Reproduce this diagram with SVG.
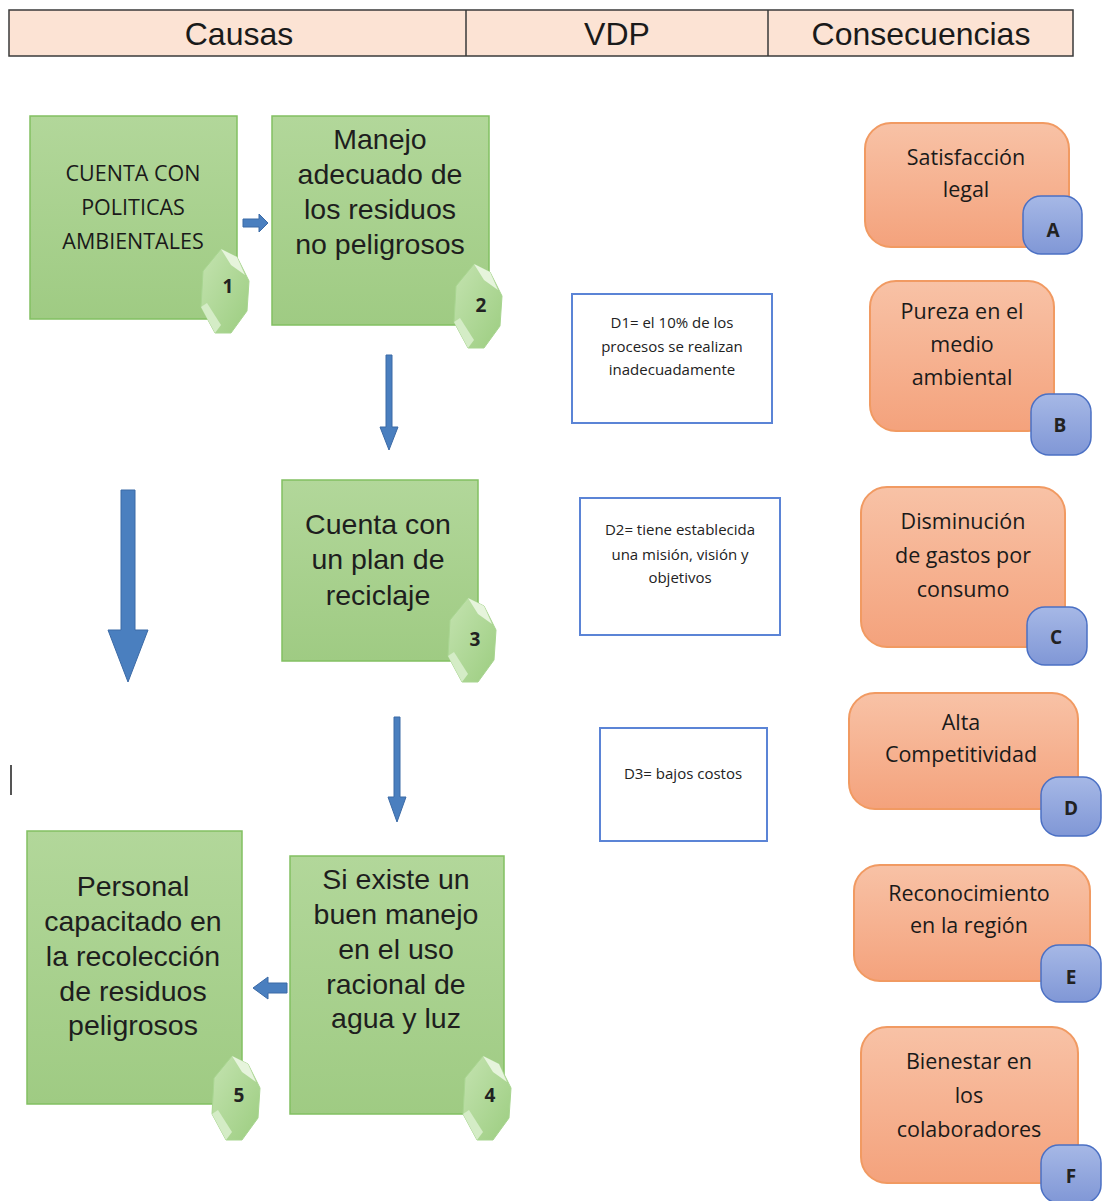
<svg xmlns="http://www.w3.org/2000/svg" width="1104" height="1201" viewBox="0 0 1104 1201">
<defs>
<linearGradient id="gG" x1="0" y1="0" x2="0" y2="1"><stop offset="0" stop-color="#b2d79a"/><stop offset="1" stop-color="#9fcb83"/></linearGradient>
<linearGradient id="oG" x1="0" y1="0" x2="0" y2="1"><stop offset="0" stop-color="#f8c2a6"/><stop offset="1" stop-color="#f4a27c"/></linearGradient>
<linearGradient id="bG" x1="0" y1="0" x2="0" y2="1"><stop offset="0" stop-color="#a6b8e6"/><stop offset="1" stop-color="#8097d6"/></linearGradient>
<linearGradient id="hG" x1="0" y1="0" x2="1" y2="1"><stop offset="0" stop-color="#c4e3b0"/><stop offset="1" stop-color="#9ccd80"/></linearGradient>
<g id="hex">
<polygon points="-4,-42 12,-34 24,-10 22,20 6,42 -10,42 -24,16 -22,-20" fill="url(#hG)" stroke="#a8d590" stroke-width="1"/>
<polygon points="-4,-42 12,-34 20,-16 6,-26" fill="#e6f4dc"/>
<polygon points="-24,16 -10,42 -4,34 -18,12" fill="#d4ecc6"/>
</g>
</defs>
<style>
.hdr{fill:#fce3d4;stroke:#3a3a3a;stroke-width:1.5}
.ht{font-family:"Liberation Sans",Arial,sans-serif;font-size:32px;fill:#1a1a1a;text-anchor:middle}
.gb{fill:url(#gG);stroke:#82c062;stroke-width:1.5}
.gt{font-family:"Liberation Sans",Arial,sans-serif;font-size:28.5px;fill:#1e1e1e;text-anchor:middle}
.ct{font-family:"Open Sans",Lato,sans-serif;font-size:21.5px;fill:#1a1a1a;text-anchor:middle}
.num{font-family:"Open Sans",Lato,sans-serif;font-size:19px;font-weight:bold;fill:#222;text-anchor:middle}
.db{fill:#fff;stroke:#5b84d6;stroke-width:2}
.dt{font-family:"Open Sans",Lato,sans-serif;font-size:15px;fill:#222;text-anchor:middle}
.ob{fill:url(#oG);stroke:#f19a62;stroke-width:2}
.ot{font-family:"Open Sans",Lato,sans-serif;font-size:21.5px;fill:#1a1a1a;text-anchor:middle}
.bb{fill:url(#bG);stroke:#4b70c4;stroke-width:1.5}
.bt{font-family:"Open Sans",Lato,sans-serif;font-size:19px;font-weight:bold;fill:#222;text-anchor:middle}
.ar{fill:#4a7fbf;stroke:#3b6aa6;stroke-width:1}
</style>

<g id="header">
<rect class="hdr" x="9" y="10" width="1064" height="46"/>
<line x1="466" y1="10" x2="466" y2="56" stroke="#3a3a3a" stroke-width="1.5"/>
<line x1="768" y1="10" x2="768" y2="56" stroke="#3a3a3a" stroke-width="1.5"/>
<text class="ht" x="239" y="45">Causas</text>
<text class="ht" x="617" y="45">VDP</text>
<text class="ht" x="921" y="45">Consecuencias</text>
</g>

<g id="connectors">
<polygon class="ar" points="243,219 259,219 259,214 268,223 259,232 259,227 243,227"/>
<polygon class="ar" points="386,355 392,355 392,427 398,427 389,450 380,427 386,427"/>
<polygon class="ar" points="121,490 135,490 135,630 148,630 128,682 108,630 121,630"/>
<polygon class="ar" points="394,717 400,717 400,797 406,797 397,822 388,797 394,797"/>
<polygon class="ar" points="287,983 268,983 268,977 253,988 268,999 268,993 287,993"/>
</g>

<line x1="11" y1="765" x2="11" y2="795" stroke="#555" stroke-width="2"/>

<g id="n1">
<rect class="gb" x="30" y="116" width="207" height="203"/>
<text class="ct" x="133" y="181">CUENTA CON</text>
<text class="ct" x="133" y="215">POLITICAS</text>
<text class="ct" x="133" y="249">AMBIENTALES</text>
<use href="#hex" x="225" y="291"/>
<text class="num" x="228" y="293">1</text>
</g>
<g id="n2">
<rect class="gb" x="272" y="116" width="217" height="209"/>
<text class="gt" x="380" y="149">Manejo</text>
<text class="gt" x="380" y="184">adecuado de</text>
<text class="gt" x="380" y="219">los residuos</text>
<text class="gt" x="380" y="254">no peligrosos</text>
<use href="#hex" x="478" y="306"/>
<text class="num" x="481" y="312">2</text>
</g>
<g id="n3">
<rect class="gb" x="282" y="480" width="196" height="181"/>
<text class="gt" x="378" y="534">Cuenta con</text>
<text class="gt" x="378" y="569">un plan de</text>
<text class="gt" x="378" y="605">reciclaje</text>
<use href="#hex" x="472" y="640"/>
<text class="num" x="475" y="646">3</text>
</g>
<g id="n4">
<rect class="gb" x="290" y="856" width="214" height="258"/>
<text class="gt" x="396" y="889">Si existe un</text>
<text class="gt" x="396" y="924">buen manejo</text>
<text class="gt" x="396" y="959">en el uso</text>
<text class="gt" x="396" y="994">racional de</text>
<text class="gt" x="396" y="1028">agua y luz</text>
<use href="#hex" x="487" y="1098"/>
<text class="num" x="490" y="1102">4</text>
</g>
<g id="n5">
<rect class="gb" x="27" y="831" width="215" height="273"/>
<text class="gt" x="133" y="896">Personal</text>
<text class="gt" x="133" y="931">capacitado en</text>
<text class="gt" x="133" y="966">la recolección</text>
<text class="gt" x="133" y="1001">de residuos</text>
<text class="gt" x="133" y="1035">peligrosos</text>
<use href="#hex" x="236" y="1098"/>
<text class="num" x="239" y="1102">5</text>
</g>

<g id="d1">
<rect class="db" x="572" y="294" width="200" height="129"/>
<text class="dt" x="672" y="328">D1= el 10% de los</text>
<text class="dt" x="672" y="352">procesos se realizan</text>
<text class="dt" x="672" y="375">inadecuadamente</text>
</g>
<g id="d2">
<rect class="db" x="580" y="498" width="200" height="137"/>
<text class="dt" x="680" y="535">D2= tiene establecida</text>
<text class="dt" x="680" y="560">una misión, visión y</text>
<text class="dt" x="680" y="583">objetivos</text>
</g>
<g id="d3">
<rect class="db" x="600" y="728" width="167" height="113"/>
<text class="dt" x="683" y="779">D3= bajos costos</text>
</g>

<g id="cA">
<rect class="ob" x="865" y="123" width="204" height="124" rx="26"/>
<text class="ot" x="966" y="165">Satisfacción</text>
<text class="ot" x="966" y="197">legal</text>
<rect class="bb" x="1023" y="196" width="59" height="58" rx="18"/>
<text class="bt" x="1053" y="237">A</text>
</g>
<g id="cB">
<rect class="ob" x="870" y="281" width="184" height="150" rx="26"/>
<text class="ot" x="962" y="319">Pureza en el</text>
<text class="ot" x="962" y="352">medio</text>
<text class="ot" x="962" y="385">ambiental</text>
<rect class="bb" x="1031" y="394" width="60" height="61" rx="18"/>
<text class="bt" x="1060" y="432">B</text>
</g>
<g id="cC">
<rect class="ob" x="861" y="487" width="204" height="160" rx="26"/>
<text class="ot" x="963" y="529">Disminución</text>
<text class="ot" x="963" y="563">de gastos por</text>
<text class="ot" x="963" y="597">consumo</text>
<rect class="bb" x="1027" y="607" width="60" height="58" rx="18"/>
<text class="bt" x="1056" y="644">C</text>
</g>
<g id="cD">
<rect class="ob" x="849" y="693" width="229" height="116" rx="26"/>
<text class="ot" x="961" y="730">Alta</text>
<text class="ot" x="961" y="762">Competitividad</text>
<rect class="bb" x="1041" y="777" width="60" height="59" rx="18"/>
<text class="bt" x="1071" y="815">D</text>
</g>
<g id="cE">
<rect class="ob" x="854" y="865" width="236" height="116" rx="26"/>
<text class="ot" x="969" y="901">Reconocimiento</text>
<text class="ot" x="969" y="933">en la región</text>
<rect class="bb" x="1041" y="945" width="60" height="57" rx="18"/>
<text class="bt" x="1071" y="984">E</text>
</g>
<g id="cF">
<rect class="ob" x="861" y="1027" width="217" height="156" rx="26"/>
<text class="ot" x="969" y="1069">Bienestar en</text>
<text class="ot" x="969" y="1103">los</text>
<text class="ot" x="969" y="1137">colaboradores</text>
<rect class="bb" x="1041" y="1145" width="60" height="58" rx="18"/>
<text class="bt" x="1071" y="1183">F</text>
</g>
</svg>
